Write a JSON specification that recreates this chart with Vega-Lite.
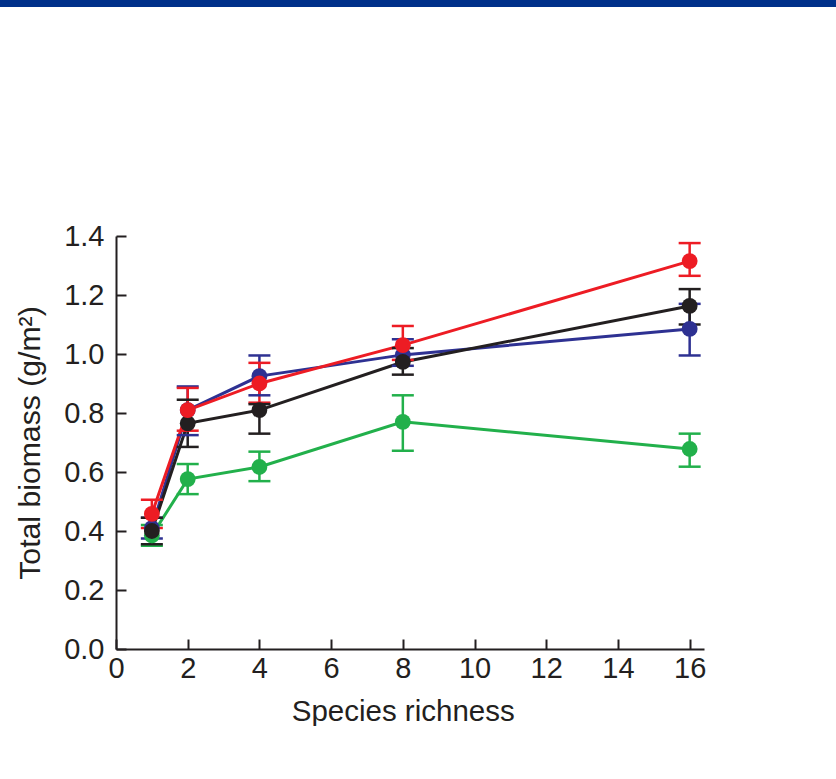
{
  "$schema": "https://vega.github.io/schema/vega-lite/v6.json",
  "padding": 0,
  "background": "white",
  "config": {
    "font": "Liberation Sans",
    "view": {"stroke": null},
    "axis": {
      "grid": false,
      "domainColor": "#231f20",
      "domainWidth": 2,
      "tickColor": "#231f20",
      "tickWidth": 2,
      "labelColor": "#231f20",
      "titleColor": "#231f20",
      "labelFont": "Liberation Sans",
      "titleFont": "Liberation Sans",
      "titleFontWeight": "normal"
    }
  },
  "datasets": {
    "biomass": [
      {"series": "green", "richness": 1, "biomass": 0.385, "lo": 0.35, "hi": 0.42},
      {"series": "green", "richness": 2, "biomass": 0.576, "lo": 0.525, "hi": 0.627},
      {"series": "green", "richness": 4, "biomass": 0.617, "lo": 0.569, "hi": 0.669},
      {"series": "green", "richness": 8, "biomass": 0.77, "lo": 0.672, "hi": 0.86},
      {"series": "green", "richness": 16, "biomass": 0.678, "lo": 0.618, "hi": 0.73},
      {"series": "blue", "richness": 1, "biomass": 0.41, "lo": 0.375, "hi": 0.445},
      {"series": "blue", "richness": 2, "biomass": 0.81, "lo": 0.725, "hi": 0.89},
      {"series": "blue", "richness": 4, "biomass": 0.925, "lo": 0.86, "hi": 0.995},
      {"series": "blue", "richness": 8, "biomass": 0.997, "lo": 0.96, "hi": 1.05},
      {"series": "blue", "richness": 16, "biomass": 1.085, "lo": 0.995, "hi": 1.17},
      {"series": "black", "richness": 1, "biomass": 0.40, "lo": 0.355, "hi": 0.445},
      {"series": "black", "richness": 2, "biomass": 0.765, "lo": 0.685, "hi": 0.845},
      {"series": "black", "richness": 4, "biomass": 0.81, "lo": 0.73, "hi": 0.83},
      {"series": "black", "richness": 8, "biomass": 0.973, "lo": 0.93, "hi": 1.02},
      {"series": "black", "richness": 16, "biomass": 1.163, "lo": 1.10, "hi": 1.22},
      {"series": "red", "richness": 1, "biomass": 0.458, "lo": 0.41, "hi": 0.506},
      {"series": "red", "richness": 2, "biomass": 0.81, "lo": 0.74, "hi": 0.885},
      {"series": "red", "richness": 4, "biomass": 0.90, "lo": 0.835, "hi": 0.97},
      {"series": "red", "richness": 8, "biomass": 1.03, "lo": 0.98, "hi": 1.095},
      {"series": "red", "richness": 16, "biomass": 1.315, "lo": 1.265, "hi": 1.376}
    ]
  },
  "spacing": 215,
  "vconcat": [
    {
      "width": 836,
      "height": 7,
      "view": {"fill": "#00308a", "stroke": null},
      "data": {"values": []},
      "mark": "point"
    },
    {
      "spacing": 0,
      "hconcat": [
        {
          "width": 15,
          "height": 1,
          "view": {"stroke": null},
          "data": {"values": []},
          "mark": "point"
        },
        {
          "width": 588,
          "height": 413,
          "data": {"name": "biomass"},
          "encoding": {
            "x": {
              "field": "richness",
              "type": "quantitative",
              "scale": {"domain": [0, 16.4], "nice": false, "zero": true},
              "axis": {
                "title": "Species richness",
                "values": [0, 2, 4, 6, 8, 10, 12, 14, 16],
                "format": "d",
                "labelFlush": false,
                "labelFontSize": 29,
                "titleFontSize": 29.5,
                "tickSize": -10,
                "labelPadding": 15.5,
                "titlePadding": 14,
                "titleX": 286.7,
                "titleAnchor": "start",
                "titleAlign": "center"
              }
            },
            "y": {
              "field": "biomass",
              "type": "quantitative",
              "scale": {"domain": [0, 1.4], "nice": false},
              "axis": {
                "title": "Total biomass (g/m²)",
                "values": [0, 0.2, 0.4, 0.6, 0.8, 1.0, 1.2, 1.4],
                "format": ".1f",
                "labelFlush": false,
                "labelFontSize": 29,
                "titleFontSize": 30.2,
                "tickSize": -10,
                "labelPadding": 22,
                "titlePadding": 18
              }
            },
            "color": {
              "field": "series",
              "type": "nominal",
              "scale": {
                "domain": ["green", "blue", "black", "red"],
                "range": ["#22b04b", "#2e3192", "#231f20", "#ed1c24"]
              },
              "legend": null
            }
          },
          "layer": [
            {"mark": {"type": "line", "strokeWidth": 3}},
            {
              "mark": {"type": "rule", "strokeWidth": 2.5},
              "encoding": {"y": {"field": "lo", "type": "quantitative"}, "y2": {"field": "hi"}}
            },
            {
              "mark": {"type": "tick", "orient": "horizontal", "size": 22, "thickness": 2.5, "opacity": 1},
              "encoding": {"y": {"field": "lo", "type": "quantitative"}}
            },
            {
              "mark": {"type": "tick", "orient": "horizontal", "size": 22, "thickness": 2.5, "opacity": 1},
              "encoding": {"y": {"field": "hi", "type": "quantitative"}}
            },
            {"mark": {"type": "point", "filled": true, "size": 250, "opacity": 1, "shape": "circle"}}
          ]
        }
      ]
    }
  ]
}
